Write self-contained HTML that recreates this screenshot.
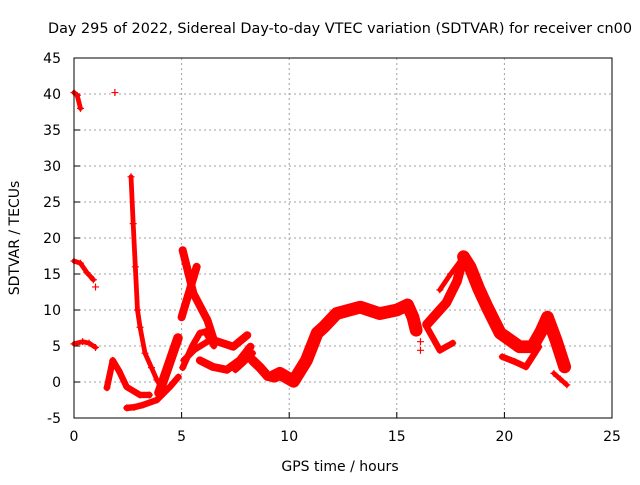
<!DOCTYPE html>
<html><head><meta charset="utf-8"><style>
body{margin:0;background:#fff;}
svg text{font-family:"DejaVu Sans","Liberation Sans",sans-serif;font-size:14px;fill:#000;}
</style></head><body>
<svg id="chart" width="640" height="480" viewBox="0 0 640 480" xmlns="http://www.w3.org/2000/svg">
<text x="340" y="33" text-anchor="middle" textLength="584" lengthAdjust="spacingAndGlyphs">Day 295 of 2022, Sidereal Day-to-day VTEC variation (SDTVAR) for receiver cn00</text>
<text x="0" y="0" transform="translate(19,238) rotate(-90)" text-anchor="middle">SDTVAR / TECUs</text>
<text x="340" y="471" text-anchor="middle">GPS time / hours</text>
<g id="grid"></g>
<g id="ticks"></g>
<g id="marks"></g>
<rect x="74" y="58" width="538" height="360" fill="none" stroke="#000" stroke-width="1"/>
</svg>
<script>
const xTicks=[0,5,10,15,20,25];
const yTicks=[-5,0,5,10,15,20,25,30,35,40,45];
const trackHours=[
[0.0,0.15,0.3],
[0.0,0.3,0.6,0.9],
[0.0,0.4,0.7,1.0],
[2.65,2.75,2.85,2.95,3.07,3.3,3.6,3.85,4.0],
[3.95,4.3,4.83],
[1.53,1.8,2.1,2.45,3.07,3.5],
[2.45,2.8,3.2,3.85,4.45,4.85],
[5.05,5.55,6.2,6.5,7.4,8.05],
[5.0,5.35,5.7],
[5.05,5.5,5.85,6.1,6.5],
[5.1,5.6,6.2],
[5.85,6.45,7.1,7.7,8.2],
[7.5,7.9,8.3],
[8.3,8.65,9.0,9.25],
[9.3,9.57,10.2,10.8,11.3,11.6,12.2,13.3,14.2,15.0,15.5,15.75,15.9],
[16.4,17.0,17.3,17.8,18.1],
[16.4,17.0,17.6],
[17.0,17.5,18.0],
[18.1,18.4,18.8,19.2,19.8,20.7,21.3,21.7,22.0,22.4,22.8],
[19.9,20.5,21.0,21.6],
[22.3,22.6,22.9]
];
const trackValues=[
[40.2,39.8,38],
[16.8,16.5,15.2,14.2],
[5.3,5.6,5.4,4.8],
[28.5,22,16,10,7.6,4,2,0.3,-0.5],
[-1.5,1.5,6.1],
[-0.8,3,1.5,-0.7,-1.8,-1.8],
[-3.6,-3.5,-3.2,-2.5,-0.7,0.7],
[18.3,12.3,8.6,5.8,4.9,6.5],
[9,12.5,16],
[2,5,6.8,7.0,5],
[3,4.5,5.6],
[3,2.1,1.7,3,4.9],
[1.7,2.8,4],
[3,2,0.8,0.7],
[0.8,1.2,0.1,3,6.8,7.6,9.5,10.4,9.5,10,10.7,9,7.2],
[8,10,11,14,17.4],
[7.6,4.4,5.4],
[12.8,15,17],
[17.4,16,13,10.4,6.8,4.9,4.9,7,9,5.8,2.1],
[3.5,2.8,2.1,4.9],
[1.2,0.4,-0.4]
];
const trackWidths=[3,3,3,3,6,4,4,5,5,4,4,5,4,6,8,6,4,3,8,4,3];
const isoHours=[1.9,1.0,16.1,16.1];
const isoValues=[40.2,13.2,4.4,5.6];
const X=h=>74+h*538/25, Y=v=>382-v*7.2;
const NS='http://www.w3.org/2000/svg';
const grid=document.getElementById('grid'),ticks=document.getElementById('ticks'),marks=document.getElementById('marks');
function mk(tag,attrs,parent){const e=document.createElementNS(NS,tag);for(const k in attrs)e.setAttribute(k,attrs[k]);parent.appendChild(e);return e;}
xTicks.forEach(t=>{
 if(t>0&&t<25){const g=mk('line',{x1:X(t),x2:X(t),y1:58,y2:418,stroke:'#a0a0a0','stroke-dasharray':'2,3'},grid);
 
 }
 const tl=mk('text',{x:X(t),y:441,'text-anchor':'middle'},ticks);tl.textContent=t;
 
 
 mk('line',{x1:X(t),x2:X(t),y1:418,y2:412,stroke:'#000'},ticks);
});
yTicks.forEach(t=>{
 if(t>-5&&t<45){const g=mk('line',{x1:74,x2:612,y1:Y(t),y2:Y(t),stroke:'#a0a0a0','stroke-dasharray':'2,3'},grid);
 
 }
 const tl=mk('text',{x:61,y:Y(t)+5,'text-anchor':'end'},ticks);tl.textContent=t;
 
 
 mk('line',{x1:74,x2:80,y1:Y(t),y2:Y(t),stroke:'#000'},ticks);
});
function plus(h,v){const p=mk('path',{d:`M${X(h)-3.5},${Y(v)}h7M${X(h)},${Y(v)-3.5}v7`,stroke:'#f00','stroke-width':1.2},marks);
 
 }
trackHours.forEach((hs,i)=>{
 const vs=trackValues[i];
 const pl=mk('polyline',{points:hs.map((h,j)=>X(h)+','+Y(vs[j])).join(' '),fill:'none',stroke:'#f00','stroke-width':trackWidths[i]*1.6,'stroke-linejoin':'round','stroke-linecap':'round'},marks);
 
 
 hs.forEach((h,j)=>plus(h,vs[j]));
});
isoHours.forEach((h,i)=>plus(h,isoValues[i]));
</script>
</body></html>
